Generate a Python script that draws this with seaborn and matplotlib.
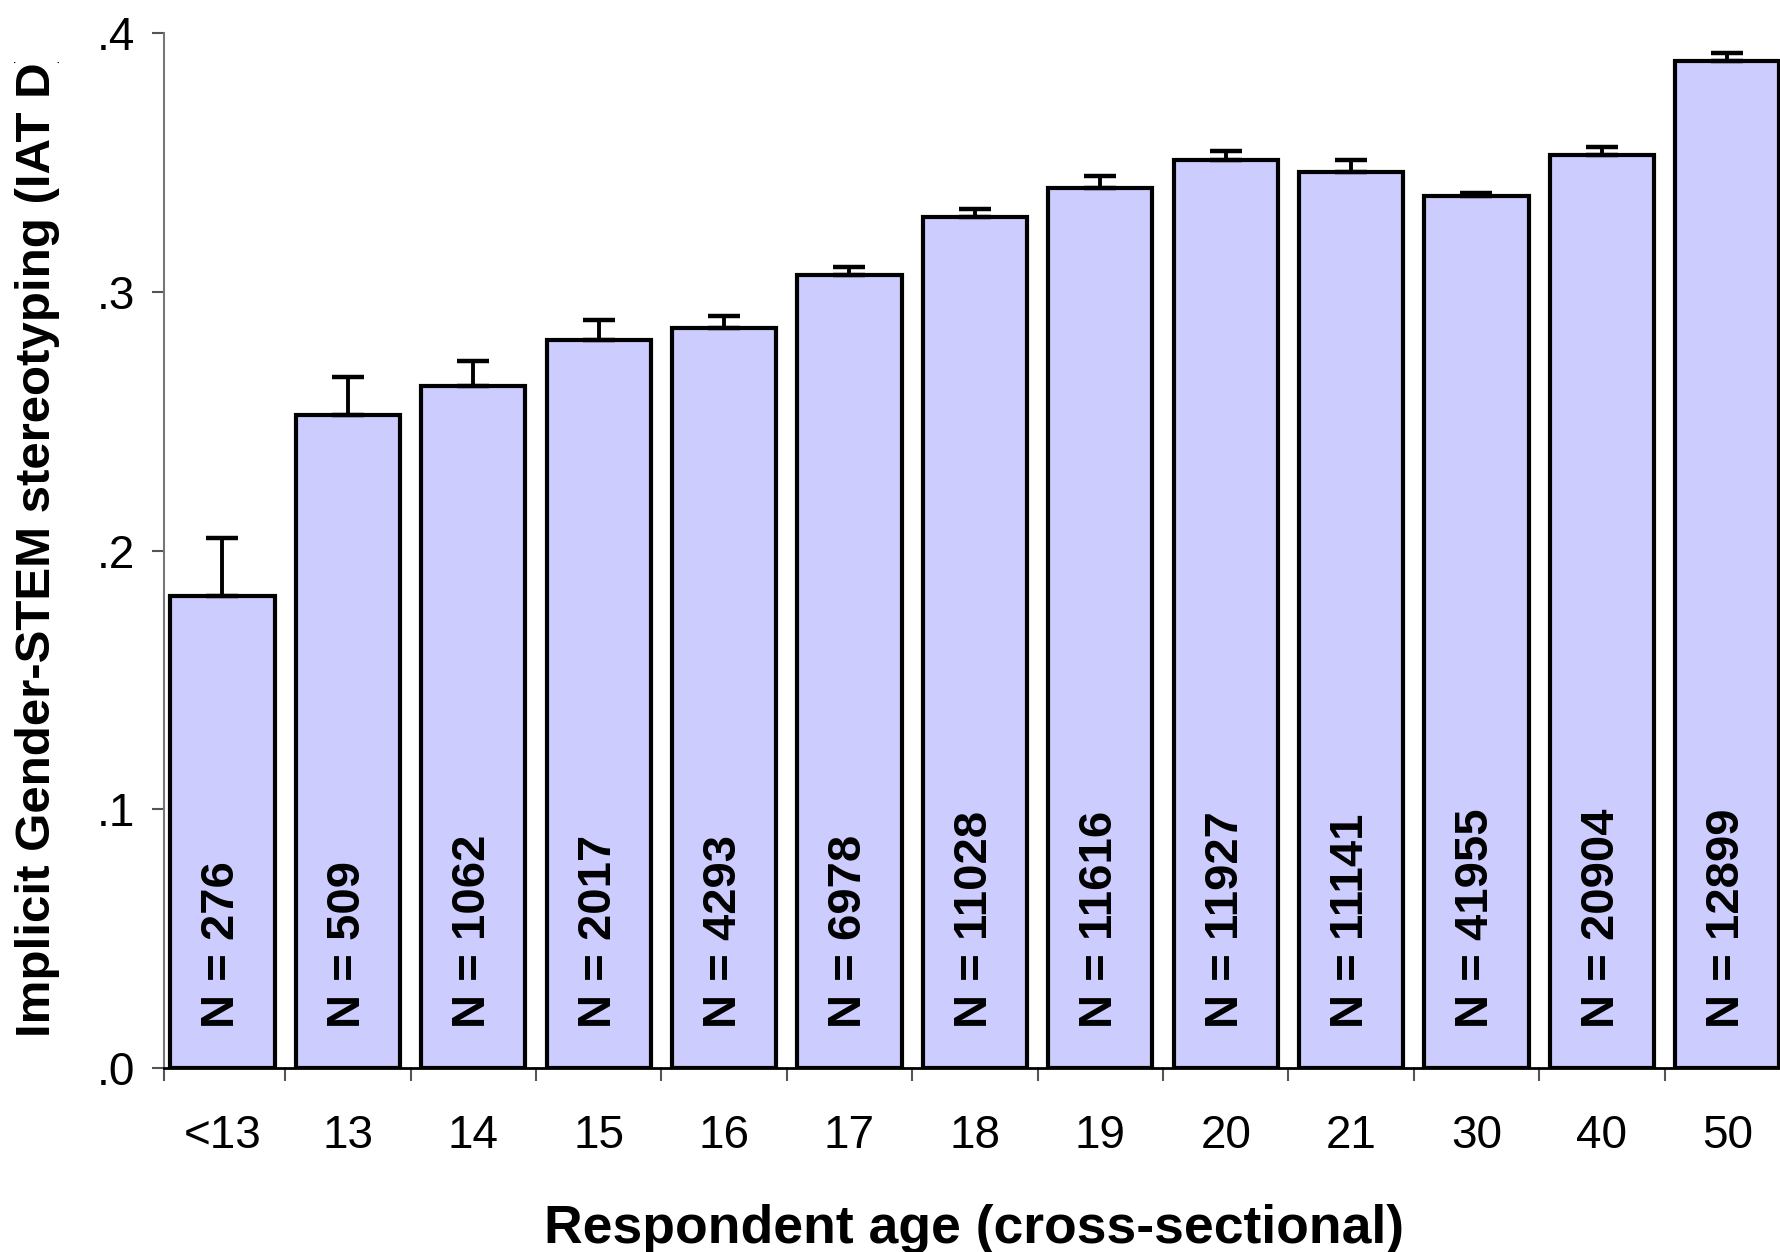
import matplotlib
matplotlib.use("Agg")
import matplotlib.pyplot as plt
from matplotlib.transforms import Bbox, TransformedBbox
import seaborn as sns
import numpy as np
import pandas as pd

# Age groups, mean implicit Gender-STEM stereotyping (IAT D), upper error and sample sizes
ages = ["<13", "13", "14", "15", "16", "17", "18", "19", "20", "21", "30", "40", "50"]
iat_d = [0.1824, 0.2525, 0.2636, 0.2813, 0.2861, 0.3066, 0.3289,
         0.3400, 0.3509, 0.3463, 0.3369, 0.3528, 0.3892]
err_upper = [0.0225, 0.0144, 0.0095, 0.0078, 0.0045, 0.0031, 0.0031,
             0.0047, 0.0034, 0.0046, 0.0014, 0.0030, 0.0032]
n_resp = [276, 509, 1062, 2017, 4293, 6978, 11028, 11616, 11927, 11141, 41955, 20904, 12899]
y_ticks = [0.0, 0.1, 0.2, 0.3, 0.4]
y_tick_labels = [".0", ".1", ".2", ".3", ".4"]

sns.set_theme(style="white")
plt.rcParams["font.family"] = ["Liberation Sans", "DejaVu Sans"]
plt.rcParams.update({"text.color": "black", "axes.labelcolor": "black",
                     "xtick.color": "black", "ytick.color": "black"})

W, H = 1781, 1252
fig = plt.figure(figsize=(W / 100, H / 100), dpi=100)
x_lo, x_hi = -0.4665, 12.455
left, right, bottom, top = 164 / W, (164 + (x_hi - x_lo) * 125.4) / W, 1 - 1068 / H, 1 - 33 / H
ax = fig.add_axes([left, bottom, right - left, top - bottom])

df = pd.DataFrame({"age": ages, "d": iat_d})
sns.barplot(data=df, x="age", y="d", order=ages, color="#CCCCFF", saturation=1,
            width=0.83, edgecolor="black", linewidth=3.0, errorbar=None, ax=ax)

xpos = np.arange(len(ages))
ax.errorbar(xpos, iat_d, yerr=[np.zeros(len(ages)), err_upper], fmt="none",
            ecolor="black", elinewidth=2.8, capsize=11.5, capthick=3.2, zorder=1)

for x, v, n in zip(xpos, iat_d, n_resp):
    ax.text(x, 0.0155, f"N = {n}", rotation=90, ha="center", va="bottom",
            fontsize=34, fontweight="bold", color="black")

ax.set_xlim(x_lo, x_hi)
ax.set_ylim(0, 0.4)
ax.set_yticks(y_ticks)
ax.set_yticklabels(y_tick_labels, fontsize=33)
ax.set_xticks(xpos)
ax.set_xticklabels(ages, fontsize=33)
ax.set_xticks([x_lo] + list(np.arange(0.5, len(ages) - 0.5, 1.0)), minor=True)
ax.tick_params(axis="x", which="major", length=0, pad=33, labelcolor="black")
ax.tick_params(axis="x", which="minor", length=9, width=1.5, color="#555555", bottom=True)
ax.tick_params(axis="y", which="major", length=9, width=1.5, color="#555555", left=True,
               pad=12, labelcolor="black")

for s in ["top", "right"]:
    ax.spines[s].set_visible(False)
ax.spines["left"].set_color("#777777")
ax.spines["left"].set_linewidth(1.5)
ax.spines["bottom"].set_color("black")
ax.spines["bottom"].set_linewidth(2.0)

ax.set_xlabel("Respondent age (cross-sectional)", fontsize=38.5, fontweight="bold",
              labelpad=33, color="black")
ax.set_ylabel("")
ylab = fig.text(37.5 / W, 1 - 1037 / H, "Implicit Gender-STEM stereotyping (IAT D)",
                rotation=90, ha="center", va="bottom", fontsize=35.5, fontweight="bold",
                color="black")
ylab.set_clip_box(TransformedBbox(Bbox([[0, 0], [1, 1 - 62 / H]]), fig.transFigure))
ylab.set_clip_on(True)

fig.savefig("out.png", dpi=100)
